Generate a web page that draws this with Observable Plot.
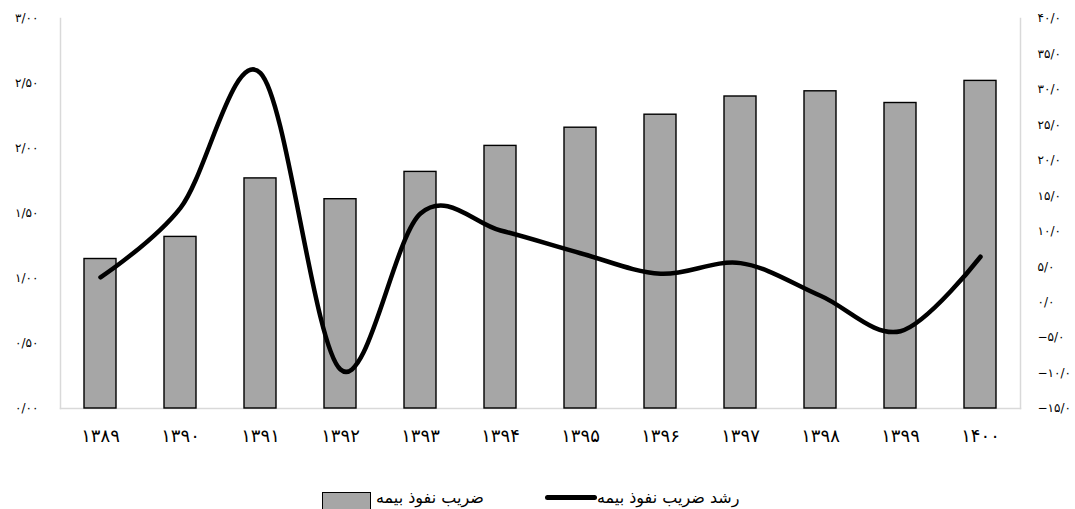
<!DOCTYPE html>
<html lang="fa">
<head>
<meta charset="utf-8">
<script src="https://cdn.jsdelivr.net/npm/d3@7"></script>
<script src="https://cdn.jsdelivr.net/npm/@observablehq/plot@0.6"></script>
<style>
  html, body { margin: 0; padding: 0; background: #fff; }
  #chart { width: 1075px; height: 509px; position: relative; overflow: hidden; font-family: "DejaVu Sans", sans-serif; }
  .legend { position: relative; height: 39px; }
  .item { position: absolute; top: 0; height: 39px; font-size: 16px; color: #000; }
  .item span { position: absolute; top: 20px; white-space: nowrap; direction: rtl; unicode-bidi: embed; line-height: 1; }
  .swatch-bar { position: absolute; left: 0; top: 22px; width: 49px; height: 24px; background: #a6a6a6; border: 1.5px solid #000; box-sizing: border-box; }
  .swatch-line { position: absolute; left: 0; top: 25px; width: 52px; height: 5px; background: #000; border-radius: 3px; }
</style>
</head>
<body>
<div id="chart"></div>
<script>
// Insurance penetration (left axis) and its annual growth in percent (right axis)
const years = ["۱۳۸۹", "۱۳۹۰", "۱۳۹۱", "۱۳۹۲", "۱۳۹۳", "۱۳۹۴", "۱۳۹۵", "۱۳۹۶", "۱۳۹۷", "۱۳۹۸", "۱۳۹۹", "۱۴۰۰"];
const penetration = [1.15, 1.32, 1.77, 1.61, 1.82, 2.02, 2.16, 2.26, 2.40, 2.44, 2.35, 2.52];
const growth = [3.5, 13.3, 32.3, -9.5, 12.5, 10.1, 6.9, 4.0, 5.5, 0.9, -4.1, 6.4];

const leftTicks = [0, 0.5, 1, 1.5, 2, 2.5, 3];
const rightTicks = [-15, -10, -5, 0, 5, 10, 15, 20, 25, 30, 35, 40];

const seriesBar = "ضریب نفوذ بیمه";
const seriesLine = "رشد ضریب نفوذ بیمه";

// Both axes share one vertical scale: growth is rescaled onto the left domain
const leftMax = 3;
const rMin = -15, rMax = 40;
const toLeft = v => (v - rMin) * leftMax / (rMax - rMin);
const fromLeft = y => y * (rMax - rMin) / leftMax + rMin;

const faDigits = s => s.replace(/[0-9]/g, c => "۰۱۲۳۴۵۶۷۸۹"[+c]).replace(".", "/").replace("-", "−");

const rows = years.map((year, i) => ({ year, value: penetration[i], growth: growth[i] }));

const frameColor = "#d9d9d9";

const plot = Plot.plot({
  width: 1075,
  height: 470,
  marginTop: 18,
  marginBottom: 62,
  marginLeft: 60,
  marginRight: 55,
  style: { fontFamily: "DejaVu Sans, sans-serif", fontSize: "12px", color: "#000", background: "#fff" },
  x: { domain: years, paddingInner: 0.6, paddingOuter: 0.3, label: null },
  y: { domain: [0, leftMax], label: null },
  marks: [
    Plot.frame({ anchor: "left", stroke: frameColor, strokeWidth: 1.5 }),
    Plot.frame({ anchor: "right", stroke: frameColor, strokeWidth: 1.5 }),
    Plot.frame({ anchor: "bottom", stroke: frameColor, strokeWidth: 1.5 }),
    Plot.barY(rows, { x: "year", y: "value", fill: "#a6a6a6", stroke: "#000", strokeWidth: 1.4 }),
    Plot.line(rows, {
      x: "year",
      y: d => toLeft(d.growth),
      stroke: "#000",
      strokeWidth: 4.5,
      strokeLinecap: "round",
      strokeLinejoin: "round",
      curve: "cardinal"
    }),
    Plot.axisX({ tickSize: 0, tickPadding: 21, fontSize: 18, label: null }),
    Plot.axisY(leftTicks, {
      anchor: "left",
      tickSize: 0,
      tickPadding: 22,
      fontSize: 12,
      label: null,
      tickFormat: d => faDigits(d.toFixed(2))
    }),
    Plot.axisY(rightTicks.map(toLeft), {
      anchor: "right",
      tickSize: 0,
      tickPadding: 17,
      fontSize: 12,
      label: null,
      tickFormat: d => faDigits(Math.round(fromLeft(d)).toFixed(1))
    })
  ]
});

const chart = document.getElementById("chart");
chart.appendChild(plot);

// Legend below the plot
const legend = document.createElement("div");
legend.className = "legend";
legend.innerHTML = `
  <div class="item" style="left:322px"><div class="swatch-bar"></div><span style="left:54px">${seriesBar}</span></div>
  <div class="item" style="left:545px"><div class="swatch-line"></div><span style="left:52px">${seriesLine}</span></div>
`;
chart.appendChild(legend);
</script>
</body>
</html>
